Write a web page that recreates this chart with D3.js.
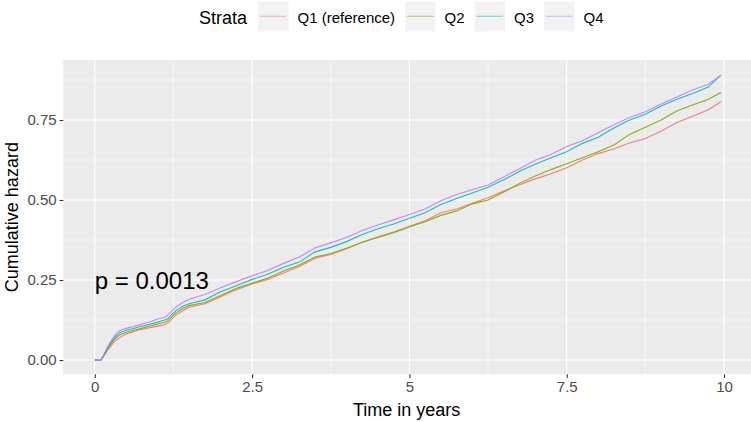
<!DOCTYPE html>
<html>
<head>
<meta charset="utf-8">
<script src="https://cdn.jsdelivr.net/npm/d3@7/dist/d3.min.js"></script>
<style>
  html, body { margin: 0; padding: 0; background: #fff; }
  svg { display: block; font-family: "Liberation Sans", Arial, sans-serif; }
</style>
</head>
<body>
<svg id="chart" width="751" height="422"></svg>
<script>
// ---- data ----
const strata = ["Q1 (reference)", "Q2", "Q3", "Q4"];
const colors = ["#F8766D", "#7CAE00", "#00BFC4", "#C77CFF"];
const times = [0, 0.1, 0.15, 0.2, 0.25, 0.3, 0.35, 0.4, 0.5, 0.6, 0.7, 0.8, 0.9, 1.0, 1.1, 1.15, 1.2, 1.25, 1.3, 1.4, 1.5, 1.75,
  2, 2.25, 2.5, 2.75, 3, 3.25, 3.5, 3.75, 4, 4.25, 4.5, 4.75, 5, 5.25, 5.5, 5.75,
  6, 6.25, 6.5, 6.75, 7, 7.25, 7.5, 7.75, 8, 8.25, 8.5, 8.75, 9, 9.25, 9.5, 9.75, 9.95];
const hazQ1 = [0, 0, 0.014, 0.03, 0.042, 0.055, 0.063, 0.07, 0.081, 0.088, 0.094, 0.098, 0.102, 0.106, 0.11, 0.114, 0.123, 0.133, 0.142, 0.155, 0.165, 0.176,
  0.198, 0.22, 0.238, 0.252, 0.272, 0.292, 0.318, 0.33, 0.348, 0.368, 0.385, 0.4, 0.418, 0.435, 0.46, 0.472,
  0.49, 0.507, 0.528, 0.548, 0.566, 0.582, 0.601, 0.625, 0.645, 0.66, 0.678, 0.692, 0.715, 0.742, 0.762, 0.782, 0.807];
const hazQ2 = [0, 0, 0.016, 0.033, 0.048, 0.061, 0.071, 0.078, 0.087, 0.092, 0.097, 0.102, 0.107, 0.113, 0.117, 0.121, 0.13, 0.14, 0.149, 0.161, 0.17, 0.18,
  0.202, 0.224, 0.24, 0.256, 0.278, 0.297, 0.322, 0.333, 0.349, 0.368, 0.383, 0.398, 0.416, 0.432, 0.452, 0.466,
  0.488, 0.5, 0.525, 0.552, 0.575, 0.595, 0.613, 0.632, 0.651, 0.672, 0.705, 0.727, 0.75, 0.778, 0.797, 0.815, 0.836];
const hazQ3 = [0, 0, 0.018, 0.036, 0.052, 0.066, 0.077, 0.085, 0.093, 0.098, 0.103, 0.108, 0.113, 0.119, 0.124, 0.128, 0.137, 0.147, 0.156, 0.168, 0.176, 0.188,
  0.213, 0.232, 0.252, 0.268, 0.29, 0.306, 0.338, 0.352, 0.37, 0.392, 0.41, 0.425, 0.443, 0.46, 0.486, 0.505,
  0.522, 0.54, 0.563, 0.59, 0.612, 0.632, 0.651, 0.677, 0.696, 0.725, 0.75, 0.768, 0.794, 0.815, 0.833, 0.853, 0.89];
const hazQ4 = [0, 0, 0.02, 0.04, 0.057, 0.072, 0.084, 0.092, 0.099, 0.104, 0.109, 0.115, 0.121, 0.128, 0.133, 0.138, 0.148, 0.158, 0.167, 0.18, 0.19, 0.205,
  0.226, 0.245, 0.263, 0.28, 0.302, 0.322, 0.35, 0.366, 0.383, 0.405, 0.422, 0.438, 0.455, 0.472, 0.498, 0.517,
  0.532, 0.547, 0.572, 0.598, 0.624, 0.642, 0.667, 0.685, 0.71, 0.735, 0.758, 0.776, 0.8, 0.822, 0.844, 0.862, 0.89];
const xTicks = [0, 2.5, 5, 7.5, 10];
const xTickLabels = ["0", "2.5", "5", "7.5", "10"];
const xMinor = [1.25, 3.75, 6.25, 8.75];
const yTicks = [0, 0.25, 0.5, 0.75];
const yTickLabels = ["0.00", "0.25", "0.50", "0.75"];
const yMinor = [0.125, 0.375, 0.625, 0.875];
const pText = "p = 0.0013";

const seriesValues = [hazQ1, hazQ2, hazQ3, hazQ4];

// ---- layout ----
const svg = d3.select("#chart");
const panel = { left: 63.3, right: 755.5, top: 60, bottom: 374.3 };
const x = d3.scaleLinear().domain([-0.5, 10.5]).range([panel.left, panel.right]);
const y = d3.scaleLinear().domain([-0.0446, 0.9375]).range([panel.bottom, panel.top]);

// panel background
svg.append("rect")
  .attr("x", panel.left).attr("y", panel.top)
  .attr("width", panel.right - panel.left).attr("height", panel.bottom - panel.top)
  .attr("fill", "#EBEBEB");

const grid = svg.append("g");
grid.selectAll(".ymin").data(yMinor).join("line")
  .attr("x1", panel.left).attr("x2", panel.right)
  .attr("y1", d => y(d)).attr("y2", d => y(d))
  .attr("stroke", "#fff").attr("stroke-width", 0.55);
grid.selectAll(".xmin").data(xMinor).join("line")
  .attr("y1", panel.top).attr("y2", panel.bottom)
  .attr("x1", d => x(d)).attr("x2", d => x(d))
  .attr("stroke", "#fff").attr("stroke-width", 0.55);
grid.selectAll(".ymaj").data(yTicks).join("line")
  .attr("x1", panel.left).attr("x2", panel.right)
  .attr("y1", d => y(d)).attr("y2", d => y(d))
  .attr("stroke", "#fff").attr("stroke-width", 1.1);
grid.selectAll(".xmaj").data(xTicks).join("line")
  .attr("y1", panel.top).attr("y2", panel.bottom)
  .attr("x1", d => x(d)).attr("x2", d => x(d))
  .attr("stroke", "#fff").attr("stroke-width", 1.1);

// lines
const line = d3.line().x(d => x(d[0])).y(d => y(d[1])).curve(d3.curveLinear);
seriesValues.forEach((vals, i) => {
  const pts = times.map((t, j) => [t, vals[j]]);
  svg.append("path")
    .datum(pts)
    .attr("d", line)
    .attr("fill", "none")
    .attr("stroke", colors[i])
    .attr("stroke-width", 1.1)
    .attr("stroke-opacity", 0.95);
});

// p-value
svg.append("text")
  .attr("x", x(0)).attr("y", 289)
  .attr("font-size", 24).attr("fill", "#000")
  .text(pText);

// axes
const xAxis = d3.axisBottom(x).tickValues(xTicks).tickFormat((d, i) => xTickLabels[i])
  .tickSize(3.7).tickPadding(3);
const gx = svg.append("g").attr("transform", `translate(0,${panel.bottom})`).call(xAxis);
gx.select(".domain").remove();
gx.selectAll(".tick line").attr("stroke", "#333333").attr("stroke-width", 1.1);
gx.selectAll(".tick text").attr("fill", "#4D4D4D").attr("font-size", 15)
  .attr("font-family", "Liberation Sans, Arial, sans-serif");

const yAxis = d3.axisLeft(y).tickValues(yTicks).tickFormat((d, i) => yTickLabels[i])
  .tickSize(3.7).tickPadding(3);
const gy = svg.append("g").attr("transform", `translate(${panel.left},0)`).call(yAxis);
gy.select(".domain").remove();
gy.selectAll(".tick line").attr("stroke", "#333333").attr("stroke-width", 1.1);
gy.selectAll(".tick text").attr("fill", "#4D4D4D").attr("font-size", 15)
  .attr("font-family", "Liberation Sans, Arial, sans-serif");

// axis titles
svg.append("text")
  .attr("x", (panel.left + 750) / 2).attr("y", 416)
  .attr("text-anchor", "middle").attr("font-size", 18).attr("fill", "#000")
  .text("Time in years");
svg.append("text")
  .attr("transform", `translate(18,${(panel.top + panel.bottom) / 2}) rotate(-90)`)
  .attr("text-anchor", "middle").attr("font-size", 18).attr("fill", "#000")
  .text("Cumulative hazard");

// legend
const leg = svg.append("g");
let cx = 199;
const title = leg.append("text").attr("x", cx).attr("y", 23.5)
  .attr("font-size", 18).attr("fill", "#000").text("Strata");
cx += title.node().getComputedTextLength() + 11;
strata.forEach((s, i) => {
  leg.append("rect").attr("x", cx).attr("y", 1.5).attr("width", 30.5).attr("height", 30)
    .attr("fill", "#F2F2F2");
  leg.append("line").attr("x1", cx + 2).attr("x2", cx + 28.5)
    .attr("y1", 16.3).attr("y2", 16.3)
    .attr("stroke", colors[i]).attr("stroke-width", 1.1).attr("stroke-opacity", 0.5);
  cx += 30.5 + 9;
  const t = leg.append("text").attr("x", cx).attr("y", 22.5)
    .attr("font-size", 15).attr("fill", "#000").text(s);
  cx += t.node().getComputedTextLength() + 10;
});
</script>
</body>
</html>
